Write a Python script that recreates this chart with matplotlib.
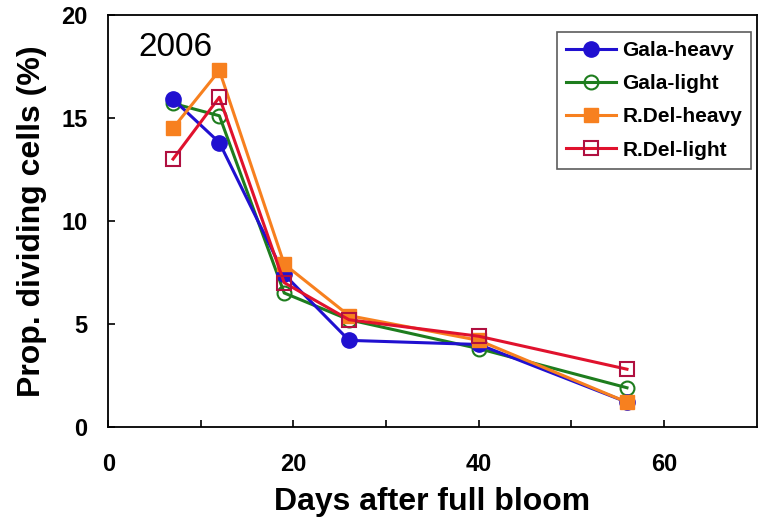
import numpy as np
import matplotlib.pyplot as plt

plt.rcParams['font.family'] = ['Liberation Sans', 'DejaVu Sans']

# sampling dates (days after full bloom)
days = [7, 12, 19, 26, 40, 56]

gala_heavy = [15.9, 13.8, 7.4, 4.2, 4.0, 1.2]
gala_light = [15.7, 15.1, 6.5, 5.2, 3.8, 1.9]
rdel_heavy = [14.5, 17.3, 7.9, 5.4, 4.2, 1.2]
rdel_light = [13.0, 16.0, 7.0, 5.2, 4.4, 2.8]

fig = plt.figure(figsize=(7.62, 5.29), dpi=100)
ax = fig.add_axes([0.142, 0.193, 0.851, 0.779])

ax.plot(days, gala_light, '-o', color='#1e7d1e', lw=2.2, ms=10,
        mfc='none', mec='#1e7d1e', mew=1.5, label='Gala-light')
ax.plot(days, gala_heavy, '-o', color='#2010d0', lw=2.2, ms=11,
        mfc='#2010d0', mec='#2010d0', label='Gala-heavy')
ax.plot(days, rdel_heavy, '-s', color='#f7801f', lw=2.2, ms=10,
        mfc='#f7801f', mec='#f7801f', label='R.Del-heavy')
ax.plot(days, rdel_light, '-s', color='#e0122d', lw=2.2, ms=10,
        mfc='none', mec='#b01040', mew=1.5, label='R.Del-light')

ax.set_xlim(0, 70)
ax.set_ylim(0, 20)
ax.set_xticks([0, 20, 40, 60])
ax.set_xticks([10, 30, 50], minor=True)
ax.set_yticks([0, 5, 10, 15, 20])
ax.tick_params(which='both', direction='in', length=5, width=1.2)
ax.tick_params(axis='x', labelsize=17, pad=19)
ax.tick_params(axis='y', labelsize=17, pad=15)
for lab in ax.get_xticklabels() + ax.get_yticklabels():
    lab.set_fontweight('bold')
for s in ax.spines.values():
    s.set_linewidth(1.3)

ax.set_xlabel('Days after full bloom', fontsize=23, fontweight='bold', labelpad=8)
ax.set_ylabel('Prop. dividing cells (%)', fontsize=23, fontweight='bold', labelpad=10)

ax.text(3.3, 18.4, '2006', fontsize=24, va='center', ha='left')

h, l = ax.get_legend_handles_labels()
order = [1, 0, 2, 3]
leg = ax.legend([h[i] for i in order], [l[i] for i in order],
                loc='upper right', bbox_to_anchor=(0.992, 0.959),
                borderaxespad=0,
                prop={'weight': 'bold', 'size': 15}, frameon=True,
                fancybox=False, edgecolor='#333333', handlelength=2.4,
                handletextpad=0.3, borderpad=0.45, labelspacing=0.68)
leg.get_frame().set_linewidth(1.2)

fig.savefig('out.png', dpi=100)
